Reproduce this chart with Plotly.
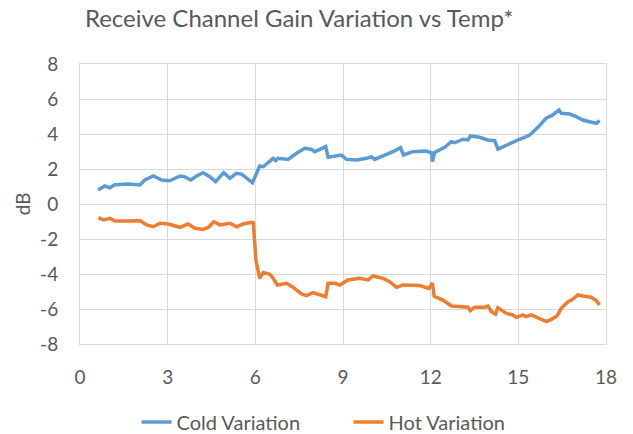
import plotly.graph_objects as go

cold_x = [0.62, 0.85, 1.02, 1.19, 1.65, 2.05, 2.22, 2.51, 2.80, 3.07, 3.42, 3.59, 3.79, 3.99,
          4.21, 4.44, 4.64, 4.92, 5.13, 5.35, 5.53, 5.70, 5.90, 6.15, 6.27, 6.61, 6.70, 6.78,
          7.12, 7.41, 7.69, 7.92, 8.03, 8.21, 8.41, 8.49, 8.78, 8.94, 9.12, 9.46, 9.81, 9.97,
          10.08, 10.37, 10.71, 10.97, 11.07, 11.39, 11.85, 12.03, 12.06, 12.14, 12.48, 12.71,
          12.82, 13.11, 13.28, 13.36, 13.67, 13.96, 14.19, 14.30, 14.58, 14.81, 15.04, 15.21,
          15.39, 15.67, 15.95, 16.18, 16.39, 16.47, 16.76, 16.98, 17.21, 17.44, 17.67, 17.78]
cold_y = [0.80, 1.03, 0.93, 1.10, 1.14, 1.09, 1.37, 1.60, 1.37, 1.33, 1.60, 1.55, 1.37, 1.60,
          1.79, 1.56, 1.28, 1.79, 1.47, 1.75, 1.71, 1.47, 1.22, 2.17, 2.13, 2.61, 2.48, 2.61,
          2.55, 2.90, 3.18, 3.12, 2.99, 3.12, 3.28, 2.67, 2.74, 2.80, 2.55, 2.51, 2.61, 2.70,
          2.55, 2.74, 2.99, 3.22, 2.80, 2.99, 3.03, 2.93, 2.42, 2.95, 3.24, 3.56,
          3.50, 3.70, 3.66, 3.89, 3.81, 3.66, 3.62, 3.14, 3.37, 3.56, 3.70, 3.81,
          3.94, 4.38, 4.90, 5.09, 5.37, 5.18, 5.14, 4.99, 4.80, 4.70, 4.61, 4.76]

hot_x = [0.63, 0.80, 1.03, 1.20, 1.65, 2.05, 2.28, 2.51, 2.74, 3.02, 3.42, 3.70, 3.93, 4.22,
         4.42, 4.58, 4.79, 5.13, 5.36, 5.58, 5.87, 5.93, 6.02, 6.15, 6.27, 6.50, 6.61, 6.75,
         7.07, 7.29, 7.58, 7.75, 7.98, 8.21, 8.41, 8.49, 8.72, 8.89, 9.17, 9.57, 9.86, 10.03,
         10.37, 10.60, 10.83, 11.05, 11.62, 11.94, 12.06, 12.12, 12.42, 12.71, 13.10, 13.28,
         13.36, 13.50, 13.85, 13.96, 14.08, 14.22, 14.30, 14.59, 14.81, 14.93, 15.16, 15.25,
         15.44, 15.73, 15.96, 16.13, 16.32, 16.47, 16.70, 16.86, 17.04, 17.21, 17.38, 17.49,
         17.67, 17.78]
hot_y = [-0.78, -0.91, -0.82, -0.97, -0.97, -0.95, -1.20, -1.30, -1.10, -1.14, -1.33, -1.14,
         -1.39, -1.45, -1.30, -1.01, -1.20, -1.10, -1.30, -1.14, -1.05, -1.07, -3.20, -4.25,
         -3.92, -4.02, -4.25, -4.63, -4.53, -4.76, -5.14, -5.24, -5.07, -5.20, -5.30, -4.53,
         -4.53, -4.63, -4.34, -4.25, -4.34, -4.11, -4.25, -4.44, -4.76, -4.63, -4.66, -4.82,
         -4.51, -5.28, -5.49, -5.83, -5.87, -5.90, -6.10, -5.90, -5.90, -5.83, -6.15, -6.29,
         -5.92, -6.25, -6.34, -6.48, -6.34, -6.44, -6.34, -6.53, -6.72, -6.59, -6.40, -5.96,
         -5.58, -5.45, -5.20, -5.26, -5.33, -5.33, -5.52, -5.77]

x_ticks = [0, 3, 6, 9, 12, 15, 18]
y_ticks = [-8, -6, -4, -2, 0, 2, 4, 6, 8]

FONT = "Lato"
GRAY = "#595959"

fig = go.Figure()
fig.add_trace(go.Scatter(x=cold_x, y=cold_y, mode="lines", name="Cold Variation",
                         line=dict(color="#5B9BD5", width=3.5)))
fig.add_trace(go.Scatter(x=hot_x, y=hot_y, mode="lines", name="Hot Variation",
                         line=dict(color="#ED7D31", width=3.5)))

fig.update_layout(
    width=633, height=434,
    margin=dict(l=72, r=35, t=56, b=98, autoexpand=False),
    paper_bgcolor="white", plot_bgcolor="white",
    font=dict(family=FONT, color=GRAY, size=19),
    title=dict(text="Receive Channel Gain Variation vs Temp*", x=0.46, xanchor="center",
               y=0.976, yanchor="middle", font=dict(size=24, color=GRAY, family=FONT)),
    xaxis=dict(range=[0, 18], tickvals=x_ticks, ticktext=[str(v) for v in x_ticks],
               showgrid=True, gridcolor="#D9D9D9", gridwidth=1, zeroline=False,
               showline=True, linecolor="#D9D9D9", mirror=True,
               ticks="outside", ticklen=16, tickcolor="rgba(0,0,0,0)",
               tickfont=dict(size=19, color=GRAY)),
    yaxis=dict(range=[-8, 8], tickvals=y_ticks, ticktext=[str(v) for v in y_ticks],
               showgrid=True, gridcolor="#D9D9D9", gridwidth=1, zeroline=False,
               showline=True, linecolor="#D9D9D9", mirror=True,
               ticks="outside", ticklen=17, tickcolor="rgba(0,0,0,0)",
               tickfont=dict(size=19, color=GRAY)),
    annotations=[dict(text="dB", xref="paper", yref="paper", x=-0.110, y=0.5,
                      xanchor="center", yanchor="middle", textangle=-90, showarrow=False,
                      font=dict(size=19, color=GRAY, family=FONT))],
    legend=dict(orientation="h", xref="container", yref="container",
                x=0.538, xanchor="center", y=0.046, yanchor="middle",
                entrywidth=167, entrywidthmode="pixels",
                font=dict(size=20, color=GRAY)),
    showlegend=True,
)

fig.write_html("out.html")
